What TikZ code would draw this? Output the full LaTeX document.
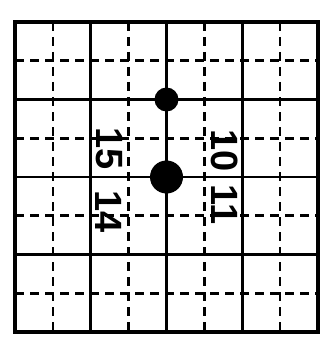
\documentclass[tikz,border=0pt]{standalone}
\usepackage{fontspec}
\newfontfamily\digitfont{Liberation Sans}
\begin{document}
\begin{tikzpicture}[x=1pt,y=-1pt,
  solidline/.style={line width=2.6pt},
  dashline/.style={line width=2.6pt,dash pattern=on 9pt off 6pt},
  frame/.style={line width=4.5pt},
  dotsmall/.style={circle,fill=black,inner sep=0pt,minimum size=24pt},
  dotbig/.style={circle,fill=black,inner sep=0pt,minimum size=33pt},
  lbl/.style={rotate=-90,inner sep=0pt,font=\digitfont\bfseries\fontsize{38}{38}\selectfont}]
\useasboundingbox (0,0) rectangle (330,350);
% vertical lines
\foreach \i in {1,3,5,7} {
  \draw[dashline] ({15+\i*37.875},22) -- ({15+\i*37.875},332);
}
\foreach \i in {2,4,6} {
  \draw[solidline] ({15+\i*37.875},22) -- ({15+\i*37.875},332);
}
% horizontal lines
\foreach \j in {1,3,5,7} {
  \draw[dashline] (15,{22+\j*38.75}) -- (318,{22+\j*38.75});
}
\foreach \j in {2,4,6} {
  \draw[solidline] (15,{22+\j*38.75}) -- (318,{22+\j*38.75});
}
\draw[frame] (15,22) rectangle (318,332);
% stones
\node[dotsmall] (a) at (166.5,99.5) {};
\node[dotbig] (b) at (166.5,177) {};
% labels
\node[lbl] (l15) at (109,149) {15};
\node[lbl] (l14) at (109,212) {14};
\node[lbl] (l10) at (225,151) {10};
\node[lbl] (l11) at (225,205) {11};
\end{tikzpicture}
\end{document}
